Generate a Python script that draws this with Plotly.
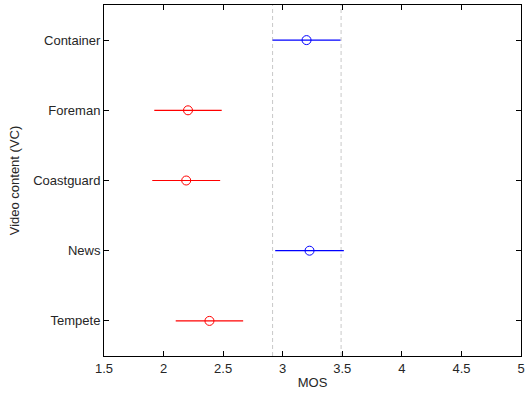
import plotly.graph_objects as go

categories = ["Tempete", "News", "Coastguard", "Foreman", "Container"]

red_names = ["Foreman", "Coastguard", "Tempete"]
red_mos = [2.205, 2.19, 2.385]
red_ci = [0.283, 0.285, 0.283]

blue_names = ["Container", "News"]
blue_mos = [3.20, 3.225]
blue_ci = [0.285, 0.288]

ref_lines = [2.915, 3.49]

x_ticks = [1.5, 2, 2.5, 3, 3.5, 4, 4.5, 5]

FONT = "Liberation Sans, Arial, sans-serif"

fig = go.Figure()

for names, mos, ci, col in [(red_names, red_mos, red_ci, "#ff0000"),
                            (blue_names, blue_mos, blue_ci, "#0000ff")]:
    fig.add_trace(go.Scatter(
        x=mos, y=names, mode="markers",
        marker=dict(symbol="circle-open", size=9, color=col, line=dict(width=1, color=col)),
        error_x=dict(type="data", array=ci, visible=True, color=col, thickness=1.2, width=0),
        showlegend=False, cliponaxis=False,
    ))

for xv in ref_lines:
    fig.add_shape(type="line", x0=xv, x1=xv, y0=0, y1=1, xref="x", yref="paper",
                  line=dict(color="#c8c8c8", width=1, dash="4px,3px"), layer="below")

axis_common = dict(
    showline=True, linecolor="#000000", linewidth=1, mirror="allticks",
    ticks="inside", ticklen=5, tickcolor="#000000", showgrid=False, zeroline=False,
    tickfont=dict(family=FONT, size=13, color="#262626"), automargin=False,
)

fig.update_xaxes(range=[1.5, 5], tickvals=x_ticks, ticktext=[f"{v:g}" for v in x_ticks],
                 title=dict(text="MOS", standoff=3, font=dict(family=FONT, size=13, color="#262626")),
                 **axis_common)
fig.update_yaxes(type="category", categoryorder="array", categoryarray=categories,
                 range=[-0.5, 4.5],
                 title=dict(text="Video content (VC)", standoff=10,
                            font=dict(family=FONT, size=13, color="#262626")),
                 **axis_common)

fig.update_layout(
    width=528, height=396,
    margin=dict(l=104, r=7, t=5, b=40),
    plot_bgcolor="white", paper_bgcolor="white",
)

fig.write_html("out.html")
